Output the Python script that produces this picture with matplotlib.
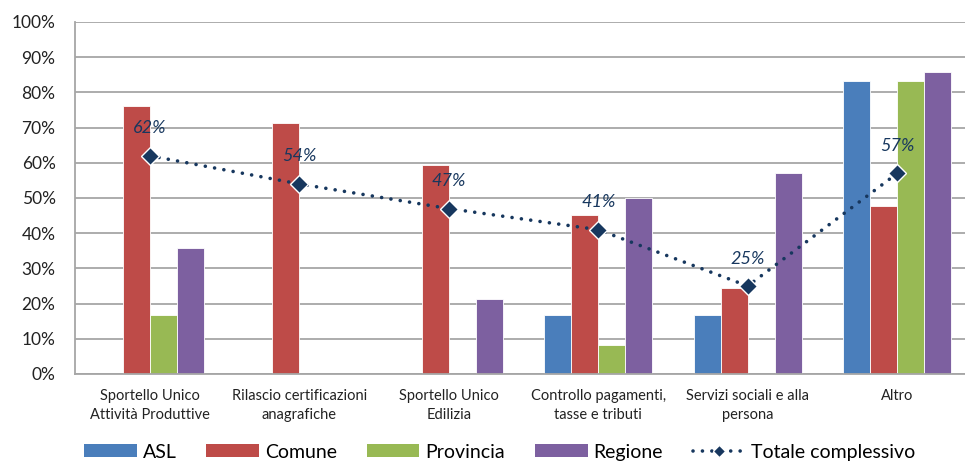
import matplotlib
matplotlib.use("Agg")
import matplotlib.pyplot as plt
import numpy as np
from matplotlib.patches import Patch
from matplotlib.lines import Line2D

categories = [
    "Sportello Unico\nAttività Produttive",
    "Rilascio certificazioni\nanagrafiche",
    "Sportello Unico\nEdilizia",
    "Controllo pagamenti,\ntasse e tributi",
    "Servizi sociali e alla\npersona",
    "Altro",
]
asl = [0, 0, 0, 16.7, 16.7, 83.3]
comune = [76.2, 71.4, 59.5, 45.2, 24.4, 47.6]
provincia = [16.7, 0, 0, 8.3, 0, 83.3]
regione = [35.7, 0, 21.4, 50.0, 57.1, 85.7]
totale = [62, 54, 47, 41, 25, 57]

series_names = ["ASL", "Comune", "Provincia", "Regione"]
series_colors = ["#4A7EBB", "#BE4B48", "#98B954", "#7D60A0"]
line_color = "#17375E"

plt.rcParams["font.family"] = ["Lato", "DejaVu Sans"]

fig = plt.figure(figsize=(9.65, 4.65), dpi=100)
ax = fig.add_axes([0.0777, 0.1957, 0.9295, 0.757])

x = np.arange(len(categories))
bw = 0.181
offsets = [-1.5, -0.5, 0.5, 1.5]
for vals, off, col in zip([asl, comune, provincia, regione], offsets, series_colors):
    ax.bar(x + off * bw, vals, width=bw, color=col, edgecolor="white",
           linewidth=0.6, zorder=2)

ax.plot(x, totale, color=line_color, linewidth=2.6,
        linestyle=(0, (0.01, 2.6)), dash_capstyle="round", zorder=3)
ax.plot(x, totale, linestyle="none", marker="D", markersize=9,
        markerfacecolor=line_color, markeredgecolor="white",
        markeredgewidth=1.0, zorder=4)
for xi, v in zip(x, totale):
    ax.annotate(f"{v}%", (xi, v), xytext=(0, 14), textcoords="offset points",
                ha="center", va="bottom", fontsize=13, style="italic",
                color=line_color, zorder=5)

ax.set_xlim(-0.5, len(categories) - 0.5)
ax.set_ylim(0, 100)
ax.set_yticks(np.arange(0, 101, 10))
ax.set_yticklabels([f"{t}%" for t in range(0, 101, 10)], fontsize=12.5, color="#222222")
ax.set_xticks(x)
ax.set_xticklabels(categories, fontsize=10.5, color="#222222", linespacing=1.45)
ax.tick_params(axis="both", length=0)
ax.tick_params(axis="x", pad=11)
ax.tick_params(axis="y", pad=14)
ax.grid(axis="y", color="#A6A6A6", linewidth=1.3, zorder=0)
ax.set_axisbelow(True)
for side in ["top", "right"]:
    ax.spines[side].set_visible(False)
for side in ["left", "bottom"]:
    ax.spines[side].set_color("#A6A6A6")
    ax.spines[side].set_linewidth(1.3)

handles = [Patch(facecolor=c, edgecolor="none") for c in series_colors]
handles.append(Line2D([0], [0], color=line_color, linewidth=2.6,
                      linestyle=(0, (0.01, 2.6)), dash_capstyle="round",
                      marker="D", markersize=6, markerfacecolor=line_color,
                      markeredgecolor="white", markeredgewidth=0.8))
fig.legend(handles, series_names + ["Totale complessivo"], loc="lower center",
           bbox_to_anchor=(0.518, -0.028), ncol=5, frameon=False, fontsize=14,
           handlelength=2.7, handleheight=0.6, columnspacing=1.55,
           handletextpad=0.3)

fig.savefig("out.png", dpi=100)
